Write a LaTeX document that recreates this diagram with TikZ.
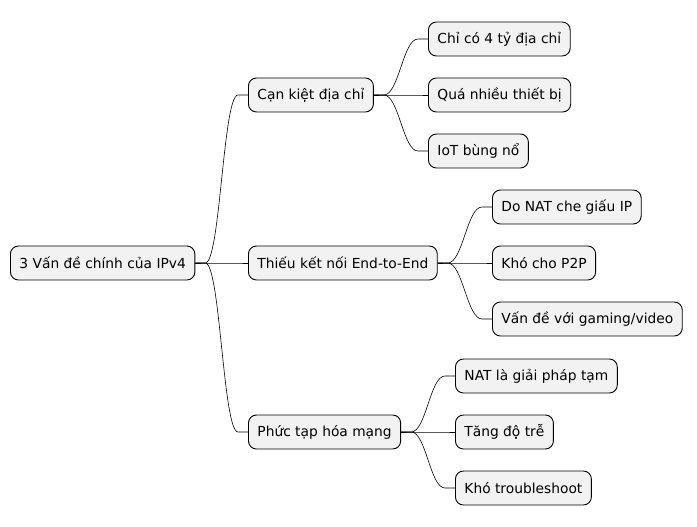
\documentclass[tikz,border=0pt]{standalone}
\usepackage{fontspec}
\setmainfont{DejaVu Sans}
\begin{document}
\begin{tikzpicture}[x=1pt,y=-1pt,
    idea/.style={draw,line width=0.9pt,rounded corners=8pt,fill=gray!10,anchor=west,minimum height=34pt,
      inner xsep=9pt,font=\fontsize{13.8}{15}\selectfont},
    link/.style={line width=0.6pt}]
    \useasboundingbox (0,0) rectangle (697,527);
    % Nodes of the map
    \node[idea] (root) at (10,263) {3 Vấn đề chính của IPv4};
    \node[idea] (full) at (248,95) {Cạn kiệt địa chỉ};
    \node[idea] (endto) at (248,263) {Thiếu kết nối End-to-End};
    \node[idea] (cplx) at (248,432) {Phức tạp hóa mạng};
    \node[idea] (full_1) at (428,39) {Chỉ có 4 tỷ địa chỉ};
    \node[idea] (full_2) at (428,95) {Quá nhiều thiết bị};
    \node[idea] (full_3) at (428,151) {IoT bùng nổ};
    \node[idea] (endto_1) at (492,207) {Do NAT che giấu IP};
    \node[idea] (endto_2) at (492,263) {Khó cho P2P};
    \node[idea] (endto_3) at (492,319) {Vấn đề với gaming/video};
    \node[idea] (cplx_1) at (455,376) {NAT là giải pháp tạm};
    \node[idea] (cplx_2) at (455,432) {Tăng độ trễ};
    \node[idea] (cplx_3) at (455,488) {Khó troubleshoot};
    % Branches
    \foreach \p/\c in {root/full,root/endto,root/cplx,
        full/full_1,full/full_2,full/full_3,
        endto/endto_1,endto/endto_2,endto/endto_3,
        cplx/cplx_1,cplx/cplx_2,cplx/cplx_3}
        \draw[link] (\p.east) -- ++(10,0) .. controls +(15,0) and +(-15,0) .. ([xshift=-10pt]\c.west) -- (\c.west);
\end{tikzpicture}
\end{document}
